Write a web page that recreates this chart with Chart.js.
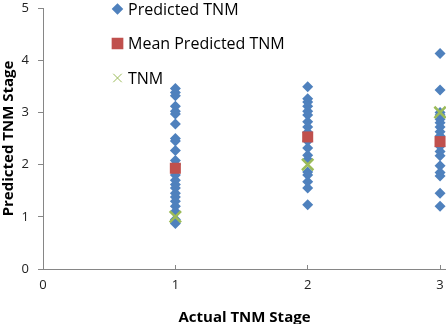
<!DOCTYPE html>
<html>
<head>
<meta charset="utf-8">
<script src="https://cdn.jsdelivr.net/npm/chart.js@4/dist/chart.umd.min.js"></script>
<style>
    html, body { margin: 0; padding: 0; overflow: hidden; background: #fff; }
    #caixa { width: 446px; height: 324px; overflow: hidden; }
</style>
</head>
<body>
<div id="caixa"><canvas id="grafico" width="446" height="330"></canvas></div>
<script>
// valores
const estagios = [1, 2, 3];
const previstoE1 = [3.46, 3.38, 3.32, 3.12, 3.02, 2.97, 2.78, 2.5, 2.45, 2.27, 2.08, 2.0, 1.8, 1.7, 1.62, 1.55, 1.45, 1.38, 1.3, 1.2, 1.1, 0.95, 0.87];
const previstoE2 = [3.49, 3.26, 3.2, 3.12, 3.02, 2.95, 2.82, 2.72, 2.62, 2.45, 2.32, 2.18, 2.1, 1.86, 1.8, 1.67, 1.55, 1.23];
const previstoE3 = [4.13, 3.43, 3.0, 2.95, 2.87, 2.8, 2.72, 2.63, 2.55, 2.35, 2.25, 2.17, 1.98, 1.85, 1.78, 1.45, 1.2];
const mediaPrevista = [1.93, 2.53, 2.44];
const tnmReal = [1, 2, 3];
const ticksX = [0, 1, 2, 3];
const ticksY = [0, 1, 2, 3, 4, 5];

const previstos = [previstoE1, previstoE2, previstoE3]
    .flatMap((lista, i) => lista.map(v => ({ x: estagios[i], y: v })));

const fonte = '"Open Sans", "DejaVu Sans", sans-serif';
const cinza = "#868686";

// zera o padding que o Chart.js reserva para os rotulos das pontas
function semPadding(s) {
    s.paddingTop = 0;
    s.paddingBottom = 0;
    s.paddingLeft = 0;
    s.paddingRight = 0;
}

const legenda = {
    id: "legenda",
    afterDraw(chart) {
        const ctx = chart.ctx;
        const tamanhos = [4, 6.5, 6];
        ctx.save();
        ctx.font = "16px " + fonte;
        ctx.textBaseline = "middle";
        chart.data.datasets.forEach((ds, i) => {
            const y = 9 + i * 34.5;
            ctx.fillStyle = ds.backgroundColor;
            ctx.strokeStyle = ds.borderColor;
            ctx.lineWidth = i === 2 ? 1 : 0;
            Chart.helpers.drawPoint(ctx, { pointStyle: ds.pointStyle, radius: tamanhos[i], borderWidth: ctx.lineWidth, rotation: 0 }, 117.5, y);
            ctx.fillStyle = "#000";
            ctx.fillText(ds.label, 128, y + 1);
        });
        ctx.restore();
    }
};

new Chart(document.getElementById("grafico"), {
    type: "scatter",
    data: {
        datasets: [
            { label: "Predicted TNM", data: previstos, pointStyle: "rectRot", pointRadius: 5.5,
              backgroundColor: "#4F81BD", borderColor: "#4F81BD", borderWidth: 0, order: 3, clip: false },
            { label: "Mean Predicted TNM", data: mediaPrevista.map((v, i) => ({ x: estagios[i], y: v })),
              pointStyle: "rect", pointRadius: 7.8, backgroundColor: "#C0504D", borderColor: "#C0504D",
              borderWidth: 0, order: 2, clip: false },
            { label: "TNM", data: tnmReal.map((v, i) => ({ x: estagios[i], y: v })), pointStyle: "crossRot",
              pointRadius: 8, backgroundColor: "#9BBB59", borderColor: "#9BBB59", borderWidth: 2.5,
              order: 1, clip: false }
        ]
    },
    options: {
        responsive: false,
        animation: false,
        layout: { autoPadding: false, padding: { top: 8, left: 0, right: 0, bottom: 0 } },
        plugins: { legend: { display: false }, tooltip: { enabled: false } },
        scales: {
            x: {
                type: "linear", min: 0, max: 3.045,
                afterBuildTicks: s => { s.ticks = ticksX.map(v => ({ value: v })); },
                afterFit: s => { s.height = 61; semPadding(s); },
                border: { color: cinza, width: 1 },
                grid: { drawOnChartArea: false, tickLength: -4, color: cinza },
                ticks: { font: { family: fonte, size: 13 }, color: "#222", padding: 12 },
                title: { display: true, text: "Actual TNM Stage", color: "#000",
                         font: { family: fonte, size: 15, weight: "bold" }, padding: { top: 0, bottom: 3 } }
            },
            y: {
                min: 0, max: 5,
                afterBuildTicks: s => { s.ticks = ticksY.map(v => ({ value: v })); },
                afterFit: s => { s.width = 43; semPadding(s); },
                border: { color: cinza, width: 1 },
                grid: { drawOnChartArea: false, tickLength: 5, color: cinza },
                ticks: { font: { family: fonte, size: 13 }, color: "#222", padding: 9 },
                title: { display: true, text: "Predicted TNM Stage", color: "#000",
                         font: { family: fonte, size: 15, weight: "bold" }, padding: 0 }
            }
        }
    },
    plugins: [legenda]
});
</script>
</body>
</html>
